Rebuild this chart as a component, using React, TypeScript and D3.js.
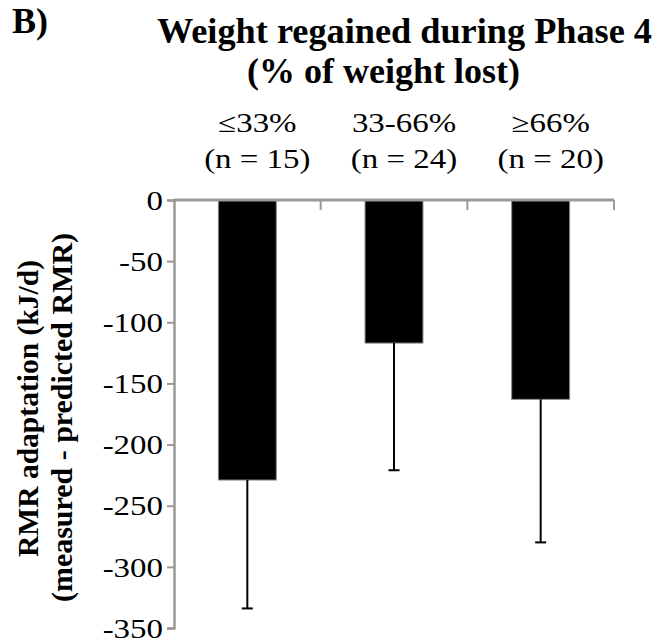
import { useEffect, useRef } from 'react';
import * as d3 from 'd3';

const categories = ['≤33%', '33-66%', '≥66%'];
const groupSizes = ['(n = 15)', '(n = 24)', '(n = 20)'];
const means = [-229, -117, -163];
const errorLows = [-334, -221, -280];
const yTicks = [0, -50, -100, -150, -200, -250, -300, -350];

const App = () => {
  const chartRef = useRef<SVGSVGElement>(null);

  useEffect(() => {
    const width = 657;
    const height = 643;
    const left = 174;
    const right = 614;
    const zeroY = 200;
    const bottom = 628;
    const serif = '"Liberation Serif", "Times New Roman", serif';
    const axisColor = '#999';
    // regular text in the source is a bit wider than Times, stretch it
    const stretch = 1.22;

    const svg = d3.select(chartRef.current);
    svg.selectAll('*').remove();
    svg.attr('width', width).attr('height', height);

    const x = d3.scaleBand<string>()
      .domain(categories)
      .range([left, right])
      .padding(0);

    const y = d3.scaleLinear()
      .domain([0, -350])
      .range([zeroY, bottom]);

    const barW = x.bandwidth() * 0.395;
    const cx = (c: string) => (x(c) as number) + x.bandwidth() / 2;

    // bars
    svg.append('g')
      .selectAll('rect')
      .data(categories)
      .join('rect')
      .attr('x', d => cx(d) - barW / 2)
      .attr('y', y(0))
      .attr('width', barW)
      .attr('height', (d, i) => y(means[i]) - y(0))
      .attr('fill', '#000')
      .attr('stroke', '#888')
      .attr('stroke-width', 1);

    // error bars (downward only)
    const err = svg.append('g').attr('stroke', '#000').attr('stroke-width', 2);
    categories.forEach((c, i) => {
      err.append('line')
        .attr('x1', cx(c)).attr('x2', cx(c))
        .attr('y1', y(means[i])).attr('y2', y(errorLows[i]));
      err.append('line')
        .attr('x1', cx(c) - 5.5).attr('x2', cx(c) + 5.5)
        .attr('y1', y(errorLows[i])).attr('y2', y(errorLows[i]));
    });

    // x axis along zero, ticks at band edges pointing down
    const xAxis = svg.append('g').attr('stroke', axisColor);
    xAxis.append('line')
      .attr('x1', left).attr('x2', right)
      .attr('y1', y(0)).attr('y2', y(0))
      .attr('stroke-width', 3);
    xAxis.selectAll('line.tick')
      .data(categories)
      .join('line')
      .attr('class', 'tick')
      .attr('x1', d => (x(d) as number) + x.bandwidth())
      .attr('x2', d => (x(d) as number) + x.bandwidth())
      .attr('y1', y(0))
      .attr('y2', y(0) + 10)
      .attr('stroke-width', 2);

    // y axis
    const yAxis = svg.append('g')
      .attr('transform', `translate(${left},0)`)
      .call(d3.axisLeft(y).tickValues(yTicks).tickSize(7).tickPadding(4).tickFormat(d3.format('d')));
    yAxis.select('.domain').attr('stroke', axisColor).attr('stroke-width', 2.5);
    yAxis.selectAll('.tick line').attr('stroke', axisColor).attr('stroke-width', 2);
    yAxis.selectAll('.tick text')
      .attr('font-family', serif)
      .attr('font-size', 27)
      .attr('fill', '#000')
      .attr('x', -11 / stretch)
      .attr('dy', '0.34em')
      .attr('transform', `scale(${stretch},1)`)
      .text(d => String(d).replace('−', '-'));

    // category labels above the plot
    const catG = svg.append('g')
      .attr('font-family', serif)
      .attr('font-size', 27)
      .attr('text-anchor', 'middle')
      .attr('fill', '#000');
    catG.selectAll('text.cat')
      .data(categories)
      .join('text')
      .attr('class', 'cat')
      .attr('transform', d => `translate(${cx(d) + 10},132) scale(${stretch},1)`)
      .text(d => d);
    catG.selectAll('text.n')
      .data(groupSizes)
      .join('text')
      .attr('class', 'n')
      .attr('transform', (d, i) => `translate(${cx(categories[i]) + 10},168) scale(${stretch},1)`)
      .text(d => d);

    // panel letter and title
    const bold = svg.append('g')
      .attr('font-family', serif)
      .attr('font-weight', 'bold')
      .attr('font-size', 36)
      .attr('fill', '#000');
    bold.append('text').attr('x', 12).attr('y', 33).text('B)');
    bold.append('text').attr('x', 157).attr('y', 43)
      .attr('textLength', 495).attr('lengthAdjust', 'spacingAndGlyphs')
      .text('Weight regained during Phase 4');
    bold.append('text').attr('x', 247).attr('y', 83)
      .attr('textLength', 273).attr('lengthAdjust', 'spacingAndGlyphs')
      .text('(% of weight lost)');

    // y axis title
    const yTitle = svg.append('g')
      .attr('font-family', serif)
      .attr('font-weight', 'bold')
      .attr('font-size', 29.5);
    yTitle.append('text')
      .attr('transform', 'translate(38,557) rotate(-90)')
      .attr('textLength', 297).attr('lengthAdjust', 'spacingAndGlyphs')
      .text('RMR adaptation (kJ/d)');
    yTitle.append('text')
      .attr('transform', 'translate(72,602) rotate(-90)')
      .attr('textLength', 369).attr('lengthAdjust', 'spacingAndGlyphs')
      .text('(measured - predicted RMR)');
  }, []);

  return (
    <svg ref={chartRef} style={{ position: 'absolute', left: 0, top: 0, background: '#fff' }} />
  );
};

export default App;
